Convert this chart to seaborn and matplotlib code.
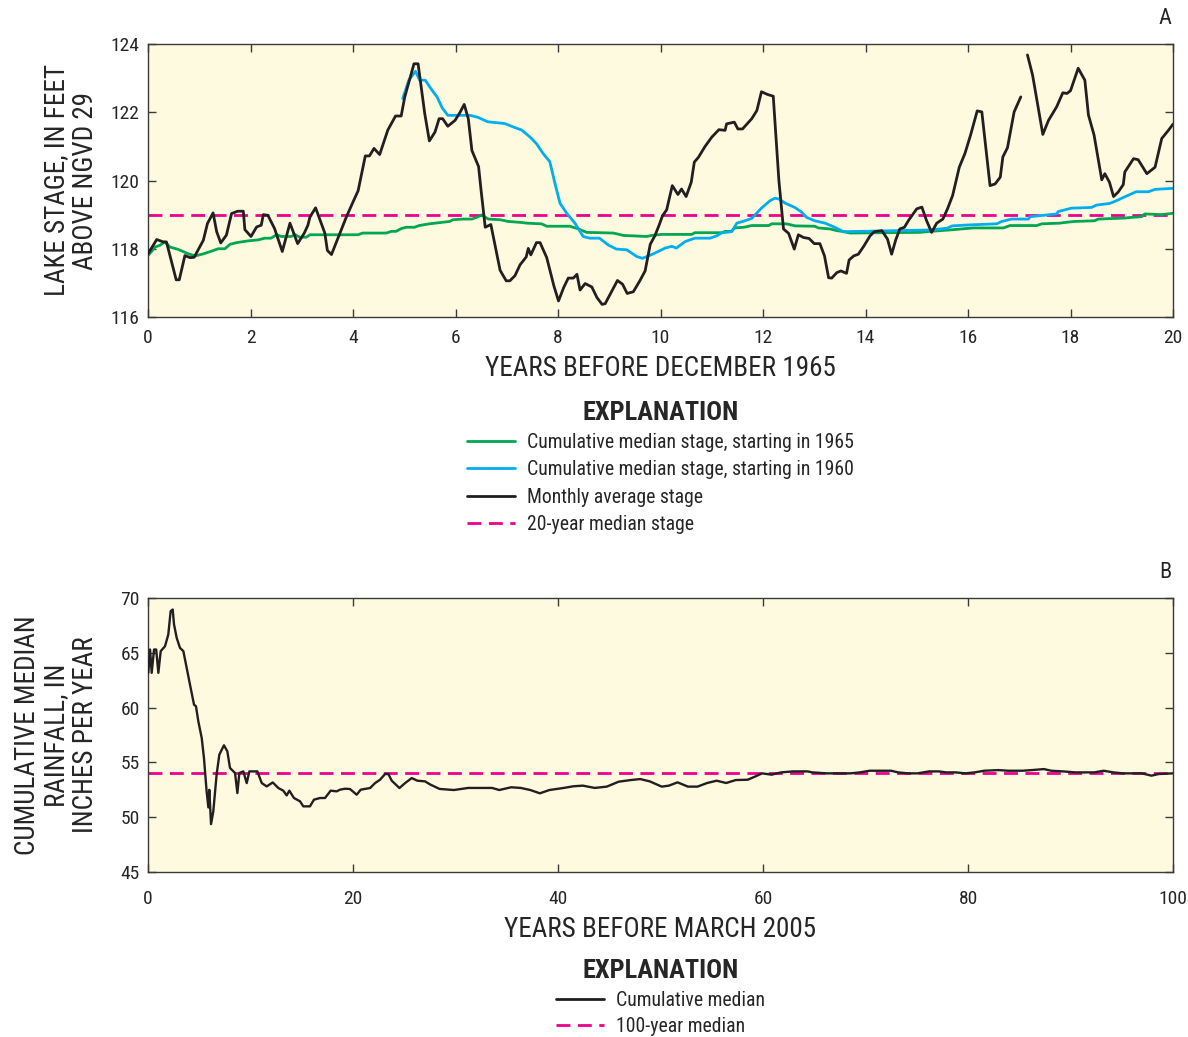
import numpy as np
import pandas as pd
import matplotlib
matplotlib.use("Agg")
import matplotlib.pyplot as plt
import seaborn as sns
from matplotlib.lines import Line2D

# ---------------------------------------------------------------- data
# Monthly average lake stage (feet above NGVD 29); NaN marks missing months
stage_years = [
    0.00, 0.17, 0.30, 0.36, 0.55, 0.61, 0.72, 0.82, 0.90, 1.08,
    1.16, 1.27, 1.34, 1.42, 1.53, 1.63, 1.75, 1.86, 1.89, 2.01,
    2.12, 2.21, 2.25, 2.34, 2.47, 2.62, 2.77, 2.92, 3.05, 3.12,
    3.16, 3.27, 3.45, 3.50, 3.58, 3.74, 3.87, 4.00, 4.10, 4.24,
    4.32, 4.41, 4.52, 4.68, 4.83, 4.94, 5.01, 5.19, 5.27, 5.40,
    5.49, 5.60, 5.68, 5.75, 5.85, 5.99, 6.09, 6.17, 6.25, 6.32,
    6.45, 6.50, 6.58, 6.69, 6.87, 6.99, 7.06, 7.16, 7.26, 7.38,
    7.42, 7.47, 7.58, 7.65, 7.78, 7.92, 8.01, 8.11, 8.20, 8.30,
    8.37, 8.43, 8.53, 8.66, 8.76, 8.86, 8.92, 9.05, 9.16, 9.26,
    9.35, 9.47, 9.60, 9.70, 9.80, 9.89, 9.97, 10.04, 10.12, 10.23,
    10.34, 10.41, 10.50, 10.60, 10.66, 10.74, 10.87, 11.00, 11.14, 11.26,
    11.29, 11.44, 11.51, 11.60, 11.78, 11.88, 11.97, 12.09, 12.20, 12.31,
    12.40, 12.50, 12.61, 12.69, 12.79, 12.90, 13.00, 13.11, 13.20, 13.28,
    13.34, 13.44, 13.52, 13.63, 13.68, 13.77, 13.86, 13.96, 14.09, 14.17,
    14.32, 14.43, 14.51, 14.59, 14.67, 14.76, 14.84, 15.00, 15.10, 15.19,
    15.29, 15.39, 15.51, 15.60, 15.70, 15.83, 15.94, 16.05, 16.18, 16.27,
    16.43, 16.53, 16.63, 16.68, 16.77, 16.90, 17.03, 17.10,
    17.16, 17.26, 17.46, 17.57, 17.73, 17.85, 17.93, 18.00, 18.15, 18.28,
    18.35, 18.46, 18.61, 18.67, 18.76, 18.84, 18.93, 19.03, 19.06, 19.23,
    19.32, 19.49, 19.65, 19.78, 19.91, 20.00,
]
stage_feet = [
    117.85, 118.27, 118.20, 118.20, 117.09, 117.09, 117.80, 117.74, 117.75, 118.25,
    118.74, 119.05, 118.50, 118.17, 118.40, 119.03, 119.10, 119.10, 118.56, 118.36,
    118.64, 118.69, 119.00, 118.98, 118.59, 117.92, 118.75, 118.15, 118.46, 118.69,
    118.93, 119.20, 118.46, 117.95, 117.83, 118.44, 118.93, 119.37, 119.70, 120.72,
    120.72, 120.94, 120.76, 121.48, 121.89, 121.89, 122.45, 123.42, 123.42, 121.96,
    121.16, 121.42, 121.81, 121.81, 121.59, 121.76, 122.00, 122.23, 121.81, 120.88,
    120.41, 119.70, 118.63, 118.71, 117.37, 117.06, 117.06, 117.21, 117.53, 117.76,
    118.01, 117.82, 118.18, 118.18, 117.74, 116.91, 116.47, 116.86, 117.14, 117.14,
    117.25, 116.79, 116.98, 116.88, 116.57, 116.37, 116.39, 116.76, 117.07, 116.96,
    116.69, 116.74, 117.07, 117.35, 118.13, 118.38, 118.68, 118.97, 119.14, 119.85,
    119.59, 119.75, 119.53, 119.95, 120.54, 120.68, 121.00, 121.27, 121.49, 121.47,
    121.66, 121.71, 121.51, 121.51, 121.81, 122.05, 122.60, 122.52, 122.47, 120.00,
    118.58, 118.45, 117.99, 118.41, 118.33, 118.30, 118.15, 118.15, 117.79, 117.15,
    117.14, 117.30, 117.35, 117.28, 117.67, 117.79, 117.84, 118.06, 118.38, 118.50,
    118.53, 118.28, 117.84, 118.26, 118.58, 118.63, 118.83, 119.17, 119.22, 118.83,
    118.48, 118.75, 118.87, 119.17, 119.56, 120.39, 120.79, 121.33, 122.04, 122.01,
    119.85, 119.90, 120.10, 120.69, 120.96, 122.01, 122.45, np.nan,
    123.68, 123.09, 121.35, 121.76, 122.16, 122.57, 122.55, 122.63, 123.29, 122.94,
    121.92, 121.33, 120.02, 120.20, 119.95, 119.53, 119.66, 119.88, 120.25, 120.64,
    120.61, 120.20, 120.39, 121.23, 121.47, 121.65,
]

# Cumulative median stage, starting in 1960
median1960_years = [
    4.97, 5.09, 5.22, 5.30, 5.41, 5.54, 5.64, 5.74, 5.85, 6.28,
    6.44, 6.63, 6.96, 7.16, 7.29, 7.45, 7.58, 7.71, 7.84, 7.94,
    8.04, 8.17, 8.33, 8.49, 8.62, 8.81, 8.98, 9.14, 9.34, 9.54,
    9.65, 9.86, 10.09, 10.22, 10.31, 10.48, 10.67, 10.97, 11.10, 11.20,
    11.39, 11.49, 11.65, 11.78, 11.97, 12.14, 12.23, 12.31, 12.44, 12.62,
    12.74, 12.85, 13.01, 13.21, 13.34, 13.44, 13.57, 15.26, 15.59, 15.69,
    16.04, 16.56, 16.66, 16.85, 17.18, 17.21, 17.54, 17.73, 17.76, 18.02,
    18.41, 18.51, 18.77, 18.90, 19.10, 19.28, 19.52, 19.65, 20.00,
]
median1960_feet = [
    122.40, 122.94, 123.20, 122.94, 122.94, 122.65, 122.45, 122.13, 121.91, 121.91,
    121.85, 121.72, 121.67, 121.55, 121.48, 121.28, 121.08, 120.79, 120.55, 119.92,
    119.33, 119.04, 118.75, 118.36, 118.31, 118.31, 118.11, 117.99, 117.97, 117.77,
    117.72, 117.85, 118.02, 118.07, 118.02, 118.21, 118.31, 118.31, 118.38, 118.47,
    118.50, 118.75, 118.82, 118.89, 119.19, 119.41, 119.48, 119.46, 119.33, 119.21,
    119.09, 118.92, 118.82, 118.75, 118.67, 118.60, 118.50, 118.55, 118.60, 118.67,
    118.70, 118.73, 118.80, 118.87, 118.87, 118.94, 118.99, 119.02, 119.09, 119.19,
    119.21, 119.28, 119.33, 119.41, 119.55, 119.67, 119.67, 119.74, 119.77,
]

# Cumulative median stage, starting in 1965
median1965_years = [
    0.00, 0.14, 0.23, 0.33, 0.43, 0.59, 0.79, 0.92, 1.08, 1.24,
    1.37, 1.50, 1.60, 1.73, 1.95, 2.15, 2.28, 2.40, 2.51, 2.60,
    2.80, 2.86, 2.96, 3.09, 3.16, 4.10, 4.19, 4.65, 4.75, 4.84,
    4.94, 5.04, 5.20, 5.29, 5.49, 5.60, 5.89, 5.95, 6.15, 6.32,
    6.41, 6.51, 6.64, 6.87, 7.03, 7.29, 7.39, 7.68, 7.78, 8.23,
    8.40, 8.56, 9.08, 9.28, 9.73, 9.83, 10.02, 10.61, 10.67, 11.20,
    11.26, 11.38, 11.45, 11.63, 11.78, 12.11, 12.17, 12.46, 12.63, 13.01,
    13.08, 13.31, 13.44, 13.54, 13.70, 15.06, 15.26, 15.64, 16.10, 16.69,
    16.82, 17.34, 17.44, 17.79, 17.89, 18.08, 18.47, 18.54, 19.06, 19.19,
    19.39, 19.45, 19.78, 20.00,
]
median1965_feet = [
    117.80, 118.05, 118.10, 118.20, 118.05, 117.98, 117.85, 117.79, 117.85, 117.93,
    118.00, 118.00, 118.13, 118.18, 118.23, 118.26, 118.31, 118.31, 118.41, 118.36,
    118.36, 118.42, 118.34, 118.34, 118.41, 118.41, 118.46, 118.46, 118.51, 118.51,
    118.59, 118.63, 118.63, 118.68, 118.73, 118.75, 118.80, 118.85, 118.87, 118.87,
    118.92, 118.99, 118.87, 118.85, 118.80, 118.77, 118.75, 118.73, 118.66, 118.66,
    118.58, 118.48, 118.46, 118.39, 118.36, 118.39, 118.42, 118.42, 118.47, 118.47,
    118.51, 118.51, 118.61, 118.63, 118.68, 118.68, 118.73, 118.73, 118.67, 118.66,
    118.61, 118.58, 118.53, 118.51, 118.46, 118.48, 118.51, 118.55, 118.61, 118.61,
    118.68, 118.68, 118.73, 118.75, 118.77, 118.80, 118.82, 118.87, 118.90, 118.92,
    118.94, 119.02, 119.00, 119.04,
]

median_stage_20yr = 119.0

# Cumulative median rainfall (inches per year), years before March 2005
rain_years = [
    0.03, 0.20, 0.36, 0.59, 0.80, 1.01, 1.24, 1.66, 1.98, 2.21,
    2.41, 2.54, 2.80, 3.12, 3.45, 3.77, 4.16, 4.49, 4.68, 4.91,
    5.24, 5.46, 5.72, 5.89, 5.98, 6.15, 6.37, 6.70, 6.96, 7.41,
    7.74, 8.00, 8.49, 8.72, 8.91, 9.30, 9.63, 9.89, 10.67, 11.10,
    11.58, 12.17, 12.72, 13.20, 13.53, 13.79, 14.24, 14.83, 15.15, 15.80,
    16.19, 16.78, 17.27, 17.82, 18.41, 18.73, 19.22, 19.71, 20.36, 20.75,
    21.66, 22.15, 22.64, 23.13, 23.45, 23.78, 24.53, 25.08, 25.73, 26.28,
    27.03, 27.50, 28.44, 29.84, 31.24, 33.57, 34.27, 35.43, 36.36, 37.30,
    38.23, 39.16, 40.56, 41.49, 42.42, 43.59, 44.76, 45.92, 47.09, 48.02,
    48.95, 50.12, 50.82, 51.66, 52.68, 53.61, 54.55, 55.48, 56.41, 57.34,
    58.51, 59.21, 59.91, 60.84, 61.77, 62.94, 64.34, 64.80, 66.20, 68.53,
    69.46, 70.40, 72.49, 73.19, 74.13, 75.06, 76.22, 77.16, 77.86, 78.79,
    79.72, 80.65, 81.59, 82.98, 83.92, 85.32, 86.25, 87.41, 88.11, 89.28,
    90.44, 91.38, 92.31, 93.24, 94.17, 95.10, 96.97, 97.90, 98.60, 100.00,
]
rain_inches = [
    63.17, 65.30, 63.17, 65.30, 65.30, 63.17, 65.15, 65.60, 66.67, 68.80,
    68.95, 67.58, 66.36, 65.45, 65.15, 63.62, 61.80, 60.27, 60.12, 58.75,
    57.23, 55.40, 52.35, 50.89, 52.50, 49.37, 50.53, 53.94, 55.71, 56.56,
    56.01, 54.49, 54.03, 52.20, 54.03, 54.18, 53.11, 54.18, 54.18, 53.11,
    52.81, 53.17, 52.66, 52.42, 51.99, 52.42, 51.75, 51.45, 50.99, 50.99,
    51.60, 51.75, 51.75, 52.42, 52.36, 52.51, 52.60, 52.57, 52.05, 52.51,
    52.66, 53.11, 53.42, 53.94, 53.94, 53.33, 52.66, 53.11, 53.57, 53.33,
    53.27, 53.00, 52.58, 52.48, 52.67, 52.67, 52.48, 52.73, 52.67, 52.48,
    52.18, 52.48, 52.67, 52.82, 52.88, 52.67, 52.79, 53.24, 53.39, 53.48,
    53.27, 52.79, 52.88, 53.18, 52.79, 52.79, 53.12, 53.33, 53.12, 53.39,
    53.42, 53.70, 54.00, 53.88, 54.09, 54.18, 54.18, 54.09, 54.00, 54.00,
    54.09, 54.24, 54.24, 54.09, 54.00, 54.00, 54.18, 54.18, 54.09, 54.09,
    54.00, 54.09, 54.24, 54.30, 54.24, 54.24, 54.30, 54.39, 54.24, 54.18,
    54.09, 54.09, 54.09, 54.24, 54.09, 54.00, 54.00, 53.79, 53.94, 54.00,
]
median_rain_100yr = 54.0

stage_labels = [
    "Cumulative median stage, starting in 1965",
    "Cumulative median stage, starting in 1960",
    "Monthly average stage",
    "20-year median stage",
]
rain_labels = ["Cumulative median", "100-year median"]

# ---------------------------------------------------------------- style
sns.set_theme(style="ticks")
plt.rcParams["font.family"] = ["Liberation Sans Narrow", "Roboto Condensed",
                               "Roboto", "DejaVu Sans"]
plt.rcParams["axes.edgecolor"] = "#3a3a3a"
plt.rcParams["axes.linewidth"] = 1.0

GREEN = "#00A651"
BLUE = "#00AEEF"
BLACK = "#231F20"
MAGENTA = "#EC008C"
PANEL = "#FEFAE0"
DASH = (0, (5, 2.7))
TICK_FS = 14
LEGEND_FS = 14.2
LABEL_FS = 19.5
TITLE_FS = 19

fig = plt.figure(figsize=(11.88, 10.37), dpi=100)
W, H = 1188, 1037
ax1 = fig.add_axes([148 / W, 1 - 317 / H, 1025 / W, 273 / H])
ax2 = fig.add_axes([148 / W, 1 - 872 / H, 1025 / W, 274 / H])

# ---------------------------------------------------------------- panel A
stage_df = pd.DataFrame({"year": stage_years, "stage": stage_feet})
stage_df["segment"] = stage_df["stage"].isna().cumsum()
stage_df = stage_df.dropna()

ax1.axhline(median_stage_20yr, color=MAGENTA, lw=2.0, ls=DASH, zorder=1)
sns.lineplot(x=median1965_years, y=median1965_feet, color=GREEN, lw=2.0,
             sort=False, estimator=None, ax=ax1, zorder=2)
sns.lineplot(x=median1960_years, y=median1960_feet, color=BLUE, lw=2.0,
             sort=False, estimator=None, ax=ax1, zorder=2)
sns.lineplot(data=stage_df, x="year", y="stage", units="segment",
             estimator=None, sort=False, color=BLACK, lw=2.0, ax=ax1, zorder=3)

ax1.set_xlim(0, 20)
ax1.set_ylim(116, 124)
ax1.set_xticks(np.arange(0, 21, 2))
ax1.set_yticks(np.arange(116, 125, 2))
ax1.set_xlabel("YEARS BEFORE DECEMBER 1965", fontsize=LABEL_FS, labelpad=6)
ax1.set_ylabel("LAKE STAGE, IN FEET\nABOVE NGVD 29", fontsize=LABEL_FS,
               linespacing=1.1)
ax1.yaxis.set_label_coords(-0.048, 0.5)

stage_handles = [
    Line2D([], [], color=GREEN, lw=2.0),
    Line2D([], [], color=BLUE, lw=2.0),
    Line2D([], [], color=BLACK, lw=2.0),
    Line2D([], [], color=MAGENTA, lw=2.0, ls=DASH),
]
leg1 = ax1.legend(stage_handles, stage_labels, title="EXPLANATION",
                  loc="upper center", bbox_to_anchor=(0.5, -0.278),
                  frameon=False, fontsize=LEGEND_FS, title_fontsize=TITLE_FS,
                  handlelength=2.45, handletextpad=0.6, labelspacing=0.42,
                  borderaxespad=0)
leg1.get_title().set_fontweight("bold")

# ---------------------------------------------------------------- panel B
ax2.axhline(median_rain_100yr, color=MAGENTA, lw=2.0, ls=DASH, zorder=1)
sns.lineplot(x=rain_years, y=rain_inches, color=BLACK, lw=1.7, sort=False,
             estimator=None, ax=ax2, zorder=3)

ax2.set_xlim(0, 100)
ax2.set_ylim(45, 70)
ax2.set_xticks(np.arange(0, 101, 20))
ax2.set_yticks(np.arange(45, 71, 5))
ax2.set_xlabel("YEARS BEFORE MARCH 2005", fontsize=LABEL_FS, labelpad=6)
ax2.set_ylabel("CUMULATIVE MEDIAN\nRAINFALL, IN\nINCHES PER YEAR",
               fontsize=LABEL_FS, linespacing=1.1)
ax2.yaxis.set_label_coords(-0.048, 0.5)

rain_handles = [
    Line2D([], [], color=BLACK, lw=2.0),
    Line2D([], [], color=MAGENTA, lw=2.0, ls=DASH),
]
leg2 = ax2.legend(rain_handles, rain_labels, title="EXPLANATION",
                  loc="upper center", bbox_to_anchor=(0.5, -0.29),
                  frameon=False, fontsize=LEGEND_FS, title_fontsize=TITLE_FS,
                  handlelength=2.45, handletextpad=0.6, labelspacing=0.38,
                  borderaxespad=0)
leg2.get_title().set_fontweight("bold")

for ax, xpad in ((ax1, 8.5), (ax2, 13)):
    ax.set_facecolor(PANEL)
    ax.tick_params(direction="in", top=True, right=True, length=6, width=1,
                   color="#3a3a3a", labelsize=TICK_FS, pad=6)
    ax.tick_params(axis="x", pad=xpad)
    for s in ax.spines.values():
        s.set_visible(True)

fig.text(1165 / W, 1 - 18 / H, "A", fontsize=16, ha="center", va="center")
fig.text(1165 / W, 1 - 573 / H, "B", fontsize=16, ha="center", va="center")

fig.savefig("out.png", dpi=100, facecolor="white")
